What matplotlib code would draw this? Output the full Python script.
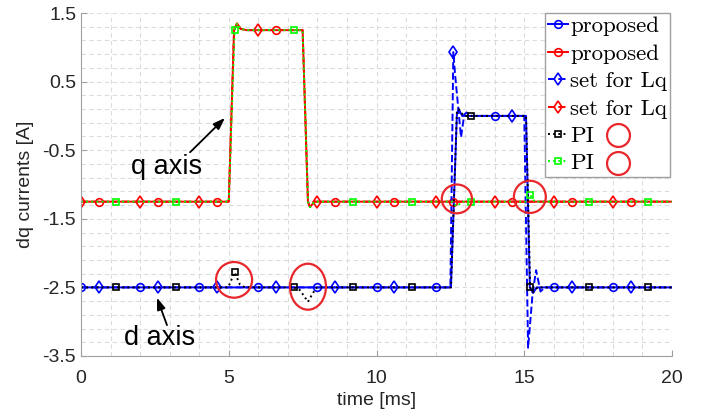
import numpy as np
import matplotlib
matplotlib.use('Agg')
import matplotlib.pyplot as plt
from matplotlib.ticker import MultipleLocator
from matplotlib.patches import Ellipse
from matplotlib.lines import Line2D

plt.rcParams['font.family'] = ['Liberation Sans', 'DejaVu Sans']

# d axis, proposed (blue, circles)
t_dp = [0, 2, 4, 6, 8, 10, 12, 12.52, 12.72, 12.78, 12.9, 14, 15.06, 15.19, 15.3, 15.42, 16, 18, 20]
v_dp = [-2.5, -2.5, -2.5, -2.5, -2.5, -2.5, -2.5, -2.5, 0.02, 0.1, 0.0, 0.0, 0.0, -2.5, -2.58, -2.5, -2.5, -2.5, -2.5]
mk_dp = [0, 2, 4, 6, 8, 10, 12, 14, 16, 18]

# q axis, proposed (red, circles)
t_qp = [0, 0.6, 2.6, 4.6, 5.0, 5.18, 5.28, 5.4, 5.6, 6.6, 7.5, 7.68, 7.75, 7.9, 8.6, 10.6, 12.6, 14.6, 16.6, 18.6, 20]
v_qp = [-1.25, -1.25, -1.25, -1.25, -1.25, 1.25, 1.35, 1.27, 1.25, 1.25, 1.25, -1.25, -1.33, -1.25, -1.25, -1.25, -1.25, -1.25, -1.25, -1.25, -1.25]
mk_qp = [0.6, 2.6, 4.6, 6.6, 8.6, 10.6, 12.6, 14.6, 16.6, 18.6]

# d axis, set for Lq (blue dashed, diamonds)
t_dl = [0, 0.6, 2.6, 4.6, 6.6, 8.6, 10.6, 12.5, 12.6, 12.66, 12.86, 12.97, 13.05, 13.2, 14.6, 15.0, 15.13, 15.28, 15.4, 15.55, 15.7, 16.6, 18.6, 20]
v_dl = [-2.5, -2.5, -2.5, -2.5, -2.5, -2.5, -2.5, -2.5, 0.93, 0.6, -0.31, 0.02, 0.05, 0.0, 0.0, 0.0, -3.38, -2.6, -2.25, -2.56, -2.5, -2.5, -2.5, -2.5]
mk_dl = [0.6, 2.6, 4.6, 6.6, 8.6, 10.6, 12.6, 14.6, 16.6, 18.6]

# q axis, set for Lq (red dashed, diamonds)
t_ql = [0, 2, 4, 5.0, 5.18, 5.28, 5.4, 5.6, 6, 7.5, 7.68, 7.75, 7.9, 8, 10, 12, 14, 16, 18, 20]
v_ql = [-1.25, -1.25, -1.25, -1.25, 1.25, 1.35, 1.27, 1.25, 1.25, 1.25, -1.25, -1.33, -1.25, -1.25, -1.25, -1.25, -1.25, -1.25, -1.25, -1.25]
mk_ql = [0, 2, 4, 6, 8, 10, 12, 14, 16, 18]

# d axis, PI (black dotted, squares)
t_dpi = [0, 1.2, 3.2, 4.98, 5.2, 5.38, 5.55, 7.2, 7.41, 7.68, 7.85, 7.99, 9.2, 11.2, 12.52, 12.72, 12.78, 12.95, 13.2, 15.06, 15.2, 15.3, 15.45, 17.2, 19.2, 20]
v_dpi = [-2.5, -2.5, -2.5, -2.5, -2.28, -2.46, -2.5, -2.5, -2.54, -2.71, -2.58, -2.5, -2.5, -2.5, -2.5, 0.05, 0.1, 0.0, 0.0, 0.0, -2.5, -2.57, -2.5, -2.5, -2.5, -2.5]
mk_dpi = [1.2, 3.2, 5.2, 7.2, 9.2, 11.2, 13.2, 15.2, 17.2, 19.2]

# q axis, PI (green dotted, squares)
t_qpi = [0, 1.2, 3.2, 5.0, 5.2, 5.28, 5.4, 5.6, 7.2, 7.5, 7.68, 7.75, 7.9, 9.2, 11.2, 12.55, 12.72, 12.9, 13.2, 15.05, 15.2, 15.35, 15.5, 17.2, 19.2, 20]
v_qpi = [-1.25, -1.25, -1.25, -1.25, 1.25, 1.35, 1.27, 1.25, 1.25, 1.25, -1.25, -1.33, -1.25, -1.25, -1.25, -1.25, -1.32, -1.25, -1.25, -1.25, -1.15, -1.25, -1.25, -1.25, -1.25, -1.25]
mk_qpi = [1.2, 3.2, 5.2, 7.2, 9.2, 11.2, 13.2, 15.2, 17.2, 19.2]

labels = ['proposed', 'proposed', 'set for Lq', 'set for Lq', 'PI', 'PI']

# red rings: (t centre, value centre, width ms, height A)
ring_t = [5.18, 7.68, 12.72, 15.19]
ring_v = [-2.39, -2.49, -1.21, -1.18]
ring_w = [1.22, 1.22, 1.02, 1.08]
ring_h = [0.52, 0.67, 0.42, 0.47]


def idx(t, marks):
    return [i for i, x in enumerate(t) if any(abs(x - m) < 1e-9 for m in marks)]


fig = plt.figure(figsize=(7.13, 4.17), dpi=100)
ax = fig.add_axes([81/713, 1 - 356/417, (672-81)/713, (356-13)/417])

ax.plot(t_dp, v_dp, '-', color='#0000ff', lw=1.4, marker='o', ms=5.5, mfc='none', mew=1.2,
        markevery=idx(t_dp, mk_dp), label=labels[0])
ax.plot(t_qp, v_qp, '-', color='#ff0000', lw=1.4, marker='o', ms=5.5, mfc='none', mew=1.2,
        markevery=idx(t_qp, mk_qp), label=labels[1])
ax.plot(t_dl, v_dl, '--', color='#0000ff', lw=1.4, marker='d', ms=6.5, mfc='none', mew=1.2,
        markevery=idx(t_dl, mk_dl), label=labels[2])
ax.plot(t_ql, v_ql, '--', color='#ff0000', lw=1.4, marker='d', ms=6.5, mfc='none', mew=1.2,
        markevery=idx(t_ql, mk_ql), label=labels[3])
ax.plot(t_dpi, v_dpi, ':', color='black', lw=1.4, marker='s', ms=4.5, mfc='none', mew=1.2,
        markevery=idx(t_dpi, mk_dpi), label=labels[4])
ax.plot(t_qpi, v_qpi, ':', color='#00ff00', lw=1.4, marker='s', ms=4.5, mfc='none', mew=1.2,
        markevery=idx(t_qpi, mk_qpi), label=labels[5])

for t, v, w, h in zip(ring_t, ring_v, ring_w, ring_h):
    ax.add_patch(Ellipse((t, v), w, h, fill=False, ec='#e8262b', lw=1.6, zorder=5))

ax.set_xlim(0, 20)
ax.set_ylim(-3.5, 1.5)
ax.set_xticks([0, 5, 10, 15, 20])
ax.set_yticks([-3.5, -2.5, -1.5, -0.5, 0.5, 1.5])
ax.set_yticklabels(['-3.5', '-2.5', '-1.5', '-0.5', '0.5', '1.5'])
ax.xaxis.set_minor_locator(MultipleLocator(1))
ax.yaxis.set_minor_locator(MultipleLocator(0.2, offset=0.1))
ax.grid(True, which='both', color='#dcdcdc', ls=(0, (4, 3)), lw=0.8)
ax.set_axisbelow(True)
for s in ['top', 'right']:
    ax.spines[s].set_visible(False)
for s in ['left', 'bottom']:
    ax.spines[s].set_color('#a0a0a0')
ax.tick_params(which='major', direction='in', length=4, color='#a0a0a0', labelsize=14,
               labelcolor='#262626')
ax.tick_params(axis='x', which='major', pad=10)
ax.tick_params(which='minor', length=0)
ax.set_xlabel('time [ms]', fontsize=14, color='#262626', labelpad=4)
ax.set_ylabel('dq currents [A]', fontsize=14, color='#262626', labelpad=6)

arrow = dict(arrowstyle='-|>,head_length=0.7,head_width=0.25', color='black', lw=1.3,
             shrinkA=0, shrinkB=0)
ax.annotate('', xy=(4.87, -0.03), xytext=(3.69, -0.53), arrowprops=arrow)
ax.annotate('', xy=(2.57, -2.65), xytext=(2.91, -3.05), arrowprops=arrow)
ax.text(2.91, -0.75, 'q axis', fontsize=19.5, ha='center', va='center')
ax.text(2.67, -3.24, 'd axis', fontsize=19.5, ha='center', va='center')

leg = ax.legend(loc='upper right', bbox_to_anchor=(0.997, 1.0), borderaxespad=0,
                prop={'family': 'cmr10', 'size': 16.5}, handlelength=0.85, handletextpad=0.1,
                labelspacing=0.32, borderpad=0.15, fancybox=False, framealpha=1,
                edgecolor='#a0a0a0')
leg.get_frame().set_linewidth(1.0)

# red rings next to the two PI entries
for py in [135, 163]:
    fig.add_artist(Line2D([618/713], [1 - py/417], marker='o', ms=16.5, mfc='none', mec='#e8262b',
                          mew=1.6, transform=fig.transFigure))

fig.savefig('out.png', dpi=100)
